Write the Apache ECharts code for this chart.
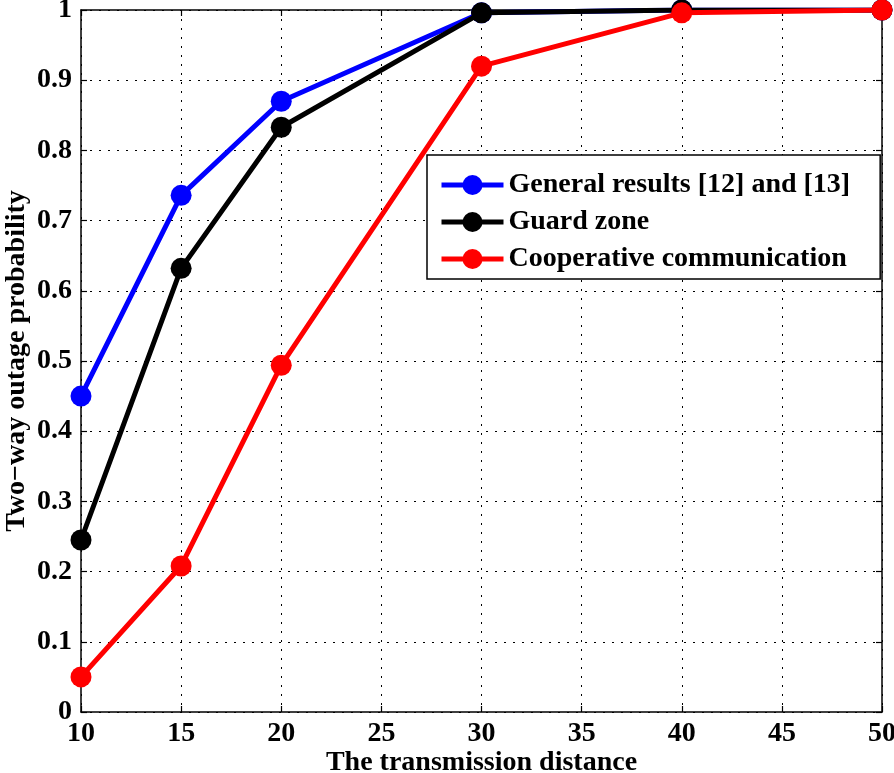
<!DOCTYPE html>
<html><head><meta charset="utf-8">
<script src="https://cdn.jsdelivr.net/npm/echarts@6/dist/echarts.min.js"></script>
<style>html,body{margin:0;padding:0;background:#fff}#c{width:894px;height:773px}</style>
</head><body><div id="c"></div>
<script>
const distances = [10, 15, 20, 30, 40, 50];
const generalResults = [0.450, 0.736, 0.870, 0.996, 1.000, 1.000];
const guardZone = [0.245, 0.632, 0.833, 0.996, 1.000, 1.000];
const cooperative = [0.050, 0.208, 0.494, 0.920, 0.996, 1.000];
const seriesNames = ['General results [12] and [13]', 'Guard zone', 'Cooperative communication'];
const seriesColors = ['#0000ff', '#000000', '#ff0000'];
const xTicks = {min: 10, max: 50, interval: 5};
const yTicks = {min: 0, max: 1, interval: 0.1};

const FONT = 'Liberation Serif';
const pair = arr => distances.map((d, i) => [d, arr[i]]);
const chart = echarts.init(document.getElementById('c'), null, {renderer: 'canvas'});
const lbl = {fontFamily: FONT, fontWeight: 'bold', fontSize: 28, color: '#000'};
const split = {show: true, lineStyle: {type: [2, 7], color: '#000', width: 1}};
const axLine = {show: true, onZero: false, lineStyle: {color: '#000', width: 1.5}};
const tick = {show: true, inside: true, length: 6, lineStyle: {color: '#000', width: 1.2}};
const mk = (data, i) => ({
  name: seriesNames[i], type: 'line', data: data,
  symbol: 'circle', symbolSize: 21,
  lineStyle: {width: 5, color: seriesColors[i]},
  itemStyle: {color: seriesColors[i]},
  z: 2 + i
});
chart.setOption({
  animation: false,
  grid: {left: 81, right: 12, top: 10, bottom: 61, containLabel: false, outerBoundsMode: 'none'},
  xAxis: [
    {type: 'value', min: xTicks.min, max: xTicks.max, interval: xTicks.interval, position: 'bottom',
     axisLine: axLine, axisTick: tick, splitLine: split,
     axisLabel: Object.assign({margin: 8}, lbl),
     name: 'The transmission distance', nameLocation: 'middle', nameGap: 37, nameMoveOverlap: false,
     nameTextStyle: Object.assign({}, lbl)},
    {type: 'value', min: xTicks.min, max: xTicks.max, interval: xTicks.interval, position: 'top',
     axisLine: axLine, axisTick: tick, splitLine: {show: false}, axisLabel: {show: false}}
  ],
  yAxis: [
    {type: 'value', min: yTicks.min, max: yTicks.max, interval: yTicks.interval, position: 'left',
     axisLine: axLine, axisTick: tick, splitLine: split,
     axisLabel: Object.assign({margin: 9}, lbl),
     name: 'Two\u2212way outage probability', nameLocation: 'middle', nameGap: 50, nameMoveOverlap: false,
     nameTextStyle: Object.assign({}, lbl)},
    {type: 'value', min: yTicks.min, max: yTicks.max, interval: yTicks.interval, position: 'right',
     axisLine: axLine, axisTick: tick, splitLine: {show: false}, axisLabel: {show: false}}
  ],
  legend: {
    orient: 'vertical', left: 427, top: 155,
    data: seriesNames,
    itemWidth: 62, itemHeight: 25, itemGap: 9,
    padding: [16, 30, 6, 12],
    lineStyle: {width: 5},
    borderColor: '#000', borderWidth: 1.5, backgroundColor: '#fff',
    textStyle: Object.assign({}, lbl)
  },
  series: [mk(pair(generalResults), 0), mk(pair(guardZone), 1), mk(pair(cooperative), 2)]
});
</script></body></html>
